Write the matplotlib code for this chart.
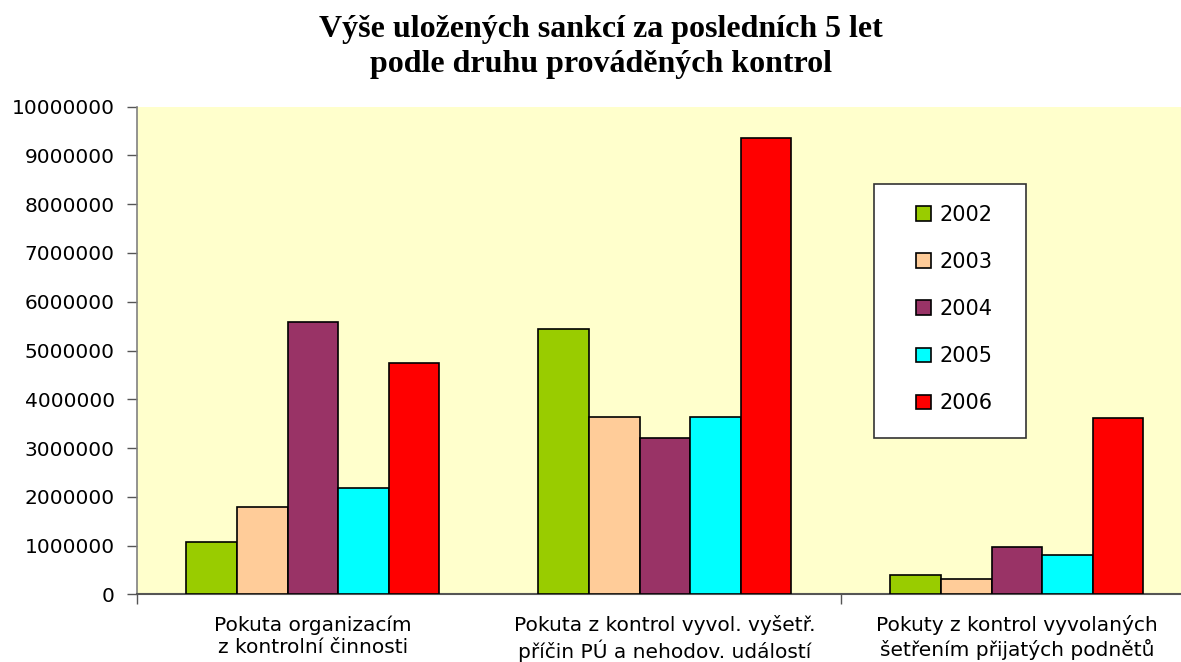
import numpy as np
import matplotlib
matplotlib.use("Agg")
from matplotlib import pyplot as plt
from matplotlib.patches import Rectangle

# data
categories = ["Pokuta organizacím\nz kontrolní činnosti",
              "Pokuta z kontrol vyvol. vyšetř.\npříčin PÚ a nehodov. událostí",
              "Pokuty z kontrol vyvolaných\nšetřením přijatých podnětů"]
years = ["2002", "2003", "2004", "2005", "2006"]
v2002 = [1080000, 5440000, 400000]
v2003 = [1790000, 3630000, 310000]
v2004 = [5580000, 3200000, 975000]
v2005 = [2180000, 3630000, 810000]
v2006 = [4740000, 9350000, 3610000]
colors = ["#99CC00", "#FFCC99", "#993366", "#00FFFF", "#FF0000"]

series = [v2002, v2003, v2004, v2005, v2006]

fig = plt.figure(figsize=(11.81, 6.62), dpi=100)
ax = fig.add_axes([0.116, 0.102, 0.894, 0.737])
ax.set_facecolor("#FFFFCC")

x = np.arange(len(categories))
w = 0.1438
for i, (vals, yr, c) in enumerate(zip(series, years, colors)):
    ax.bar(x + (i - 2) * w, vals, width=w, color=c, edgecolor="black",
           linewidth=1.2, label=yr, zorder=3)

ax.set_xlim(-0.5, 2.5)
ax.set_ylim(0, 10000000)
ax.set_yticks(np.arange(0, 10000001, 1000000))
ax.set_yticklabels([str(v) for v in range(0, 10000001, 1000000)])

ax.set_xticks(x)
ax.set_xticklabels(categories, linespacing=1.2)
ax.set_xticks([-0.5, 1.5], minor=True)
ax.tick_params(axis="x", which="major", length=0, pad=15, labelsize=14.5)
ax.tick_params(axis="x", which="minor", length=7, color="#555555", width=1)
ax.tick_params(axis="y", length=7, color="#555555", width=1, pad=9, labelsize=14.5)

for s in ["top", "right"]:
    ax.spines[s].set_visible(False)
ax.spines["left"].set_color("#808080")
ax.spines["bottom"].set_color("#555555")
ax.spines["left"].set_linewidth(1.2)
ax.spines["bottom"].set_linewidth(1.5)

# legend box
ax.add_patch(Rectangle((0.698, 0.3207), 0.144, 0.5203, transform=ax.transAxes,
                       facecolor="white", edgecolor="#333333", linewidth=1.2, zorder=4))
leg = ax.legend(loc="center", bbox_to_anchor=(0.774, 0.585), frameon=False,
                fontsize=15, borderpad=0, handlelength=0.7, handleheight=0.7,
                handletextpad=0.4, labelspacing=1.3)
leg.set_zorder(5)

fig.text(0.509, 0.929, "Výše uložených sankcí za posledních 5 let\npodle druhu prováděných kontrol",
         ha="center", va="center", fontsize=23, fontweight="bold",
         family="Liberation Serif", linespacing=1.25)

fig.savefig("out.png", dpi=100)
